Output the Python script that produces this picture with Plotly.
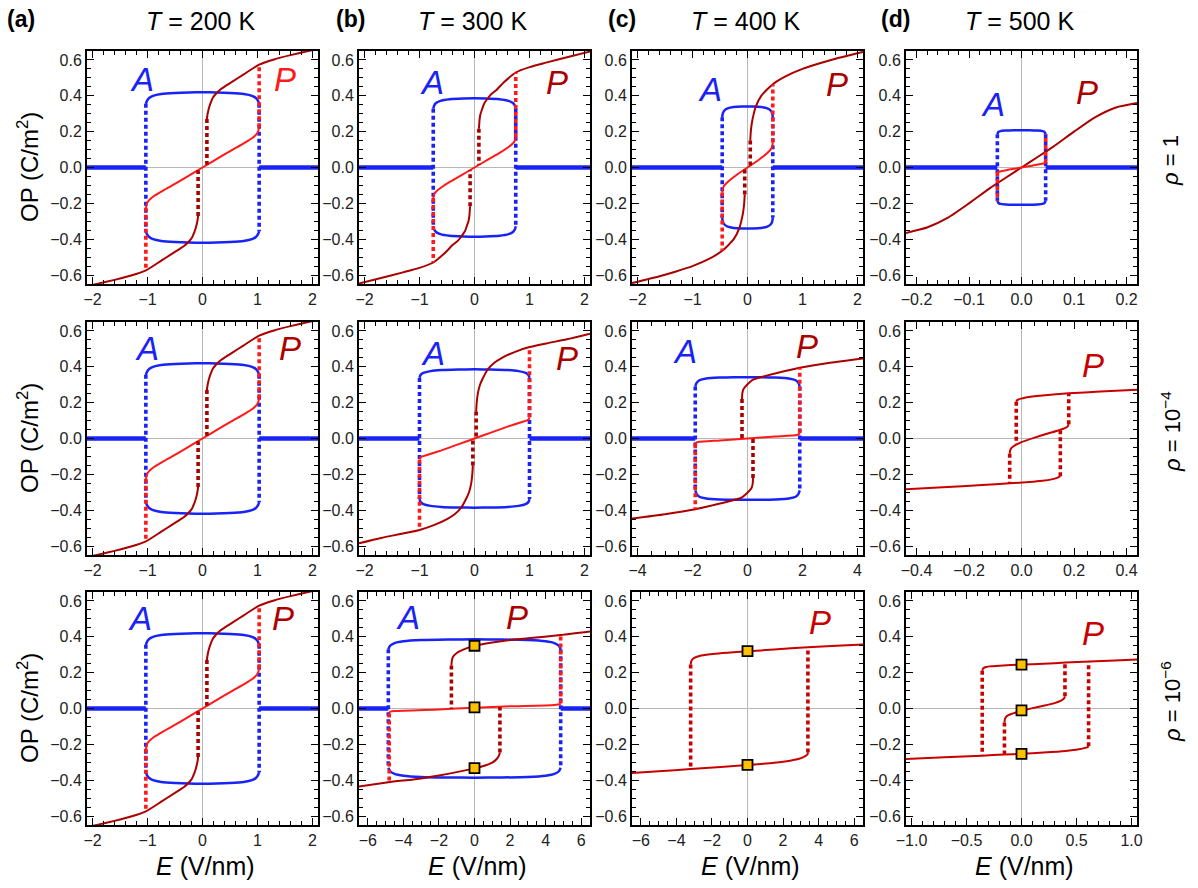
import plotly.graph_objects as go

# ---------------- data ----------------
# Column (a), T = 200 K  (same loops in all three rows)
a_Ec = 1.03
a_A_E = [-1.03, -1.01, -0.97, -0.9, -0.75, -0.5, -0.25, 0, 0.25, 0.5, 0.75, 0.9, 0.97, 1.01, 1.03]
a_A_OP = [0.355, 0.372, 0.388, 0.400, 0.410, 0.416, 0.419, 0.420, 0.419, 0.416, 0.410, 0.400, 0.388, 0.372, 0.355]
a_Pup_E = [0.08, 0.088, 0.1, 0.12, 0.15, 0.19, 0.24, 0.33, 0.42, 0.55, 0.75, 1.03, 1.3, 1.6, 1.9, 2.1]
a_Pup_OP = [0.27, 0.29, 0.31, 0.335, 0.362, 0.39, 0.41, 0.437, 0.455, 0.48, 0.52, 0.574, 0.603, 0.627, 0.648, 0.662]
a_Pmid_E = [-1.03, -1.01, -0.97, -0.9, -0.75, -0.55, -0.3, 0, 0.3, 0.55, 0.75, 0.9, 0.97, 1.01, 1.03]
a_Pmid_OP = [-0.225, -0.2, -0.182, -0.163, -0.135, -0.1, -0.055, 0, 0.055, 0.1, 0.135, 0.163, 0.182, 0.2, 0.225]
a_Eturn = 0.08
a_mid_turn = 0.015

# Column (b) row 1, T = 300 K, rho = 1
b1_Ec = 0.75
b1_A_E = [-0.75, -0.735, -0.7, -0.62, -0.45, -0.2, 0, 0.2, 0.45, 0.62, 0.7, 0.735, 0.75]
b1_A_OP = [0.328, 0.345, 0.36, 0.372, 0.381, 0.385, 0.386, 0.385, 0.381, 0.372, 0.36, 0.345, 0.328]
b1_Pup_E = [0.08, 0.094, 0.11, 0.131, 0.175, 0.24, 0.3, 0.4, 0.55, 0.75, 1.0, 1.3, 1.7, 2.1]
b1_Pup_OP = [0.216, 0.272, 0.3, 0.319, 0.356, 0.385, 0.408, 0.433, 0.48, 0.53, 0.56, 0.585, 0.617, 0.647]
b1_Pmid_E = [-0.75, -0.735, -0.7, -0.6, -0.45, -0.25, 0, 0.25, 0.45, 0.6, 0.7, 0.735, 0.75]
b1_Pmid_OP = [-0.17, -0.15, -0.135, -0.11, -0.08, -0.045, 0, 0.045, 0.08, 0.11, 0.135, 0.15, 0.17]
b1_Eturn = 0.08
b1_mid_turn = 0.015

# Column (c) row 1, T = 400 K, rho = 1
c1_Ec = 0.46
c1_A_E = [-0.46, -0.45, -0.42, -0.36, -0.25, -0.1, 0, 0.1, 0.25, 0.36, 0.42, 0.45, 0.46]
c1_A_OP = [0.28, 0.3, 0.318, 0.33, 0.337, 0.34, 0.34, 0.34, 0.337, 0.33, 0.318, 0.3, 0.28]
c1_Pup_E = [0.05, 0.06, 0.08, 0.11, 0.15, 0.25, 0.46, 0.7, 1.0, 1.3, 1.6, 2.1]
c1_Pup_OP = [0.15, 0.2, 0.25, 0.295, 0.34, 0.4, 0.465, 0.51, 0.55, 0.58, 0.607, 0.645]
c1_Pmid_E = [-0.46, -0.45, -0.42, -0.35, -0.2, 0, 0.2, 0.35, 0.42, 0.45, 0.46]
c1_Pmid_OP = [-0.14, -0.118, -0.1, -0.078, -0.042, 0, 0.042, 0.078, 0.1, 0.118, 0.14]
c1_Eturn = 0.05
c1_mid_turn = 0.01

# Column (d) row 1, T = 500 K, rho = 1
d1_Ec = 0.046
d1_A_E = [-0.046, -0.044, -0.04, -0.03, -0.015, 0, 0.015, 0.03, 0.04, 0.044, 0.046]
d1_A_OP = [0.185, 0.198, 0.203, 0.206, 0.208, 0.208, 0.208, 0.206, 0.203, 0.198, 0.185]
d1_PS_E = [-0.22, -0.18, -0.14, -0.1, -0.06, -0.03, 0, 0.03, 0.06, 0.1, 0.14, 0.18, 0.22]
d1_PS_OP = [-0.365, -0.335, -0.28, -0.2, -0.115, -0.057, 0, 0.057, 0.115, 0.2, 0.28, 0.335, 0.36]
d1_Pmid_E = [-0.046, -0.02, 0, 0.02, 0.046]
d1_Pmid_OP = [-0.025, -0.01, 0, 0.01, 0.025]

# Column (b) row 2, rho = 1e-4
b2_Ec = 1.0
b2_A_E = [-1.0, -0.98, -0.93, -0.8, -0.6, -0.3, 0, 0.3, 0.6, 0.8, 0.93, 0.98, 1.0]
b2_A_OP = [0.338, 0.355, 0.366, 0.376, 0.382, 0.385, 0.386, 0.385, 0.382, 0.376, 0.366, 0.355, 0.338]
b2_Pup_E = [0.03, 0.04, 0.06, 0.1, 0.15, 0.24, 0.35, 0.5, 0.75, 1.0, 1.3, 1.7, 2.1]
b2_Pup_OP = [0.15, 0.2, 0.25, 0.3, 0.335, 0.385, 0.42, 0.45, 0.485, 0.51, 0.53, 0.555, 0.585]
b2_Pmid_E = [-1.0, -0.985, -0.95, -0.85, -0.6, -0.3, 0, 0.3, 0.6, 0.85, 0.95, 0.985, 1.0]
b2_Pmid_OP = [-0.118, -0.106, -0.1, -0.091, -0.066, -0.033, 0, 0.033, 0.066, 0.091, 0.1, 0.106, 0.118]
b2_Eturn = 0.03
b2_mid_turn = 0.004

# Column (c) row 2, rho = 1e-4
c2_Ec = 1.9
c2_A_E = [-1.9, -1.85, -1.75, -1.5, -1.0, -0.5, 0, 0.5, 1.0, 1.5, 1.75, 1.85, 1.9]
c2_A_OP = [0.29, 0.31, 0.325, 0.335, 0.34, 0.342, 0.342, 0.342, 0.34, 0.335, 0.325, 0.31, 0.29]
c2_Pup_E = [-0.2, -0.19, -0.15, -0.08, 0.05, 0.2, 0.5, 1.0, 1.9, 3.0, 4.2]
c2_Pup_OP = [0.22, 0.25, 0.275, 0.29, 0.31, 0.328, 0.343, 0.363, 0.395, 0.423, 0.447]
c2_Pmid_E = [-1.9, -1.88, -1.8, -1.0, 0, 1.0, 1.8, 1.88, 1.9]
c2_Pmid_OP = [-0.032, -0.025, -0.02, -0.011, 0, 0.011, 0.02, 0.025, 0.032]
c2_Eturn = -0.2
c2_mid_turn = -0.002

# Column (d) row 2, rho = 1e-4
d2_Pup_E = [-0.02, -0.017, -0.01, 0.0, 0.02, 0.08, 0.18, 0.3, 0.44]
d2_Pup_OP = [0.205, 0.213, 0.219, 0.223, 0.23, 0.24, 0.252, 0.262, 0.272]
d2_Plo_E = [-0.44, -0.3, -0.15, -0.045, 0.03, 0.08, 0.115, 0.135, 0.148]
d2_Plo_OP = [-0.283, -0.272, -0.26, -0.25, -0.243, -0.236, -0.228, -0.22, -0.21]
d2_Pmid_E = [-0.045, -0.043, -0.038, -0.025, 0, 0.05, 0.1, 0.14, 0.165, 0.176, 0.18]
d2_Pmid_OP = [-0.085, -0.065, -0.052, -0.038, -0.02, 0.005, 0.028, 0.045, 0.058, 0.068, 0.08]
d2_jump_E = [-0.02, -0.045, 0.18, 0.148]
d2_jump_from = [0.205, -0.085, 0.08, -0.21]
d2_jump_to = [-0.03, -0.25, 0.253, 0.048]

# Column (b) row 3, rho = 1e-6
b3_Ec = 4.85
b3_A_E = [-4.85, -4.75, -4.5, -4.0, -3.0, -1.5, 0, 1.5, 3.0, 4.0, 4.5, 4.75, 4.85]
b3_A_OP = [0.33, 0.35, 0.365, 0.375, 0.382, 0.385, 0.386, 0.385, 0.382, 0.375, 0.365, 0.35, 0.33]
b3_Pup_E = [-1.3, -1.27, -1.2, -1.0, -0.6, 0, 1, 2, 3, 4.85, 6.5]
b3_Pup_OP = [0.24, 0.27, 0.29, 0.31, 0.33, 0.35, 0.368, 0.382, 0.392, 0.41, 0.43]
b3_Plo_E = [-6.5, -4.85, -3, -2, -1, 0, 0.6, 1.0, 1.25, 1.38, 1.43]
b3_Plo_OP = [-0.435, -0.412, -0.39, -0.374, -0.355, -0.334, -0.318, -0.302, -0.282, -0.262, -0.245]
b3_Pmid_E = [-4.8, -4.75, -4.5, -2, 0, 2, 4.5, 4.8, 4.85]
b3_Pmid_OP = [-0.028, -0.018, -0.014, -0.005, 0.004, 0.012, 0.02, 0.024, 0.028]
b3_jumpR_E = [-4.8, 4.85]
b3_jumpR_from = [-0.028, 0.028]
b3_jumpR_to = [-0.412, 0.41]
b3_jumpD_E = [-1.3, 1.43]
b3_jumpD_from = [0.24, -0.245]
b3_jumpD_to = [-0.001, 0.009]
b3_mark_OP = [0.35, 0.006, -0.333]

# Column (c) row 3, rho = 1e-6
c3_Pup_E = [-3.2, -3.15, -3.0, -2.6, -1.8, -0.8, 0, 1.5, 3.4, 5, 6.5]
c3_Pup_OP = [0.245, 0.268, 0.283, 0.296, 0.306, 0.314, 0.319, 0.329, 0.342, 0.35, 0.357]
c3_Plo_E = [-6.5, -5, -3.2, -1.5, 0, 1.5, 2.4, 2.95, 3.25, 3.38, 3.4]
c3_Plo_OP = [-0.36, -0.35, -0.338, -0.326, -0.315, -0.303, -0.291, -0.279, -0.266, -0.255, -0.245]
c3_jump_E = [-3.2, 3.4]
c3_jump_from = [0.245, -0.245]
c3_jump_to = [-0.338, 0.342]
c3_mark_OP = [0.32, -0.315]

# Column (d) row 3, rho = 1e-6
d3_Pup_E = [-0.357, -0.35, -0.33, -0.29, -0.2, 0, 0.2, 0.4, 0.62, 0.85, 1.05]
d3_Pup_OP = [0.21, 0.222, 0.23, 0.235, 0.239, 0.245, 0.25, 0.256, 0.262, 0.268, 0.273]
d3_Plo_E = [-1.05, -0.7, -0.357, -0.155, 0, 0.2, 0.4, 0.52, 0.57, 0.6, 0.61]
d3_Plo_OP = [-0.282, -0.272, -0.263, -0.257, -0.253, -0.246, -0.237, -0.228, -0.221, -0.215, -0.21]
d3_Pmid_E = [-0.155, -0.15, -0.135, -0.1, -0.05, 0, 0.1, 0.2, 0.3, 0.36, 0.385, 0.395]
d3_Pmid_OP = [-0.078, -0.058, -0.043, -0.032, -0.022, -0.013, 0.002, 0.015, 0.03, 0.044, 0.055, 0.068]
d3_jump_E = [-0.357, -0.155, 0.395, 0.61]
d3_jump_from = [0.21, -0.078, 0.068, -0.21]
d3_jump_to = [-0.263, -0.257, 0.256, 0.262]
d3_mark_OP = [0.245, -0.01, -0.253]

# axis ranges / ticks per panel (row-major)
x_max = [2.1, 2.1, 2.1, 0.22,
         2.1, 2.1, 4.2, 0.44,
         2.1, 6.5, 6.5, 1.05]
x_dtick = [1, 1, 1, 0.1,
           1, 1, 2, 0.2,
           1, 2, 2, 0.5]
x_minor = [0.2, 0.2, 0.2, 0.02,
           0.2, 0.2, 0.5, 0.05,
           0.2, 0.5, 0.5, 0.1]
x_fmt = ["d", "d", "d", ".1f", "d", "d", "d", ".1f", "d", "d", "d", ".1f"]
y_max = 0.65

temps = ["200", "300", "400", "500"]
panel_tags = ["(a)", "(b)", "(c)", "(d)"]
rho_labels = ["1", "10<sup>−4</sup>", "10<sup>−6</sup>"]

# ---------------- styles ----------------
BLUE = "rgb(25,35,245)"
RED = "rgb(255,25,25)"
DRED = "rgb(170,0,0)"
MRED = "rgb(200,0,0)"
FONT = "Liberation Sans, Arial, sans-serif"
W, H = 1198, 888
COL_LEFT = [87, 359, 632, 906]
ROW_TOP = [51, 322, 592]
PW, PH = 231, 233
TAG_X = [5, 334, 606, 879]

fig = go.Figure()


def axn(i):
    return ("x" if i == 0 else f"x{i+1}"), ("y" if i == 0 else f"y{i+1}")


def line(i, E, OP, color, width=2.0, dash=None, shape="spline"):
    xa, ya = axn(i)
    fig.add_trace(go.Scatter(x=E, y=OP, mode="lines", xaxis=xa, yaxis=ya,
                             line=dict(color=color, width=width, dash=dash, shape=shape,
                                       smoothing=0.6),
                             hoverinfo="skip", showlegend=False))


def dots(i, E, y0, y1, color):
    line(i, [E, E], [y0, y1], color, width=3.6, dash="4px,3px", shape="linear")


def markers(i, OPs):
    xa, ya = axn(i)
    fig.add_trace(go.Scatter(x=[0] * len(OPs), y=OPs, mode="markers", xaxis=xa, yaxis=ya,
                             marker=dict(symbol="square", size=10, color="rgb(255,192,0)",
                                         line=dict(color="black", width=1.8)),
                             hoverinfo="skip", showlegend=False))


def neg(v):
    return [-t for t in v]


def antipolar(i, Ec, AE, AOP, xm):
    line(i, [-xm, -Ec], [0, 0], BLUE, width=4.5, shape="linear")
    line(i, [Ec, xm], [0, 0], BLUE, width=4.5, shape="linear")
    line(i, AE, AOP, BLUE, width=2.5)
    line(i, AE, neg(AOP), BLUE, width=2.5)
    dots(i, -Ec, AOP[0], -AOP[0], BLUE)
    dots(i, Ec, AOP[-1], -AOP[-1], BLUE)


def polar_sym(i, Ec, PuE, PuOP, PmE, PmOP, Et, mt, xm):
    line(i, PuE, PuOP, DRED)
    line(i, neg(PuE), neg(PuOP), DRED)
    line(i, PmE, PmOP, RED)
    top = PuOP[PuE.index(Ec)] if Ec in PuE else PuOP[-1]
    dots(i, Ec, PmOP[-1], top, RED)
    dots(i, -Ec, PmOP[0], -top, RED)
    dots(i, Et, PuOP[0], mt, DRED)
    dots(i, -Et, -PuOP[0], -mt, DRED)


# --- column a, all rows
for r in range(3):
    i = 4 * r
    antipolar(i, a_Ec, a_A_E, a_A_OP, x_max[i])
    polar_sym(i, a_Ec, a_Pup_E, a_Pup_OP, a_Pmid_E, a_Pmid_OP, a_Eturn, a_mid_turn, x_max[i])

# --- b1, c1
antipolar(1, b1_Ec, b1_A_E, b1_A_OP, x_max[1])
polar_sym(1, b1_Ec, b1_Pup_E, b1_Pup_OP, b1_Pmid_E, b1_Pmid_OP, b1_Eturn, b1_mid_turn, x_max[1])
antipolar(2, c1_Ec, c1_A_E, c1_A_OP, x_max[2])
polar_sym(2, c1_Ec, c1_Pup_E, c1_Pup_OP, c1_Pmid_E, c1_Pmid_OP, c1_Eturn, c1_mid_turn, x_max[2])

# --- d1
antipolar(3, d1_Ec, d1_A_E, d1_A_OP, x_max[3])
line(3, d1_PS_E, d1_PS_OP, DRED)
line(3, d1_Pmid_E, d1_Pmid_OP, RED)
dots(3, d1_Ec, d1_Pmid_OP[-1], d1_A_OP[-1], RED)
dots(3, -d1_Ec, d1_Pmid_OP[0], -d1_A_OP[0], RED)

# --- b2, c2
antipolar(5, b2_Ec, b2_A_E, b2_A_OP, x_max[5])
polar_sym(5, b2_Ec, b2_Pup_E, b2_Pup_OP, b2_Pmid_E, b2_Pmid_OP, b2_Eturn, b2_mid_turn, x_max[5])
antipolar(6, c2_Ec, c2_A_E, c2_A_OP, x_max[6])
polar_sym(6, c2_Ec, c2_Pup_E, c2_Pup_OP, c2_Pmid_E, c2_Pmid_OP, c2_Eturn, c2_mid_turn, x_max[6])

# --- d2
line(7, d2_Pup_E, d2_Pup_OP, MRED)
line(7, d2_Plo_E, d2_Plo_OP, MRED)
line(7, d2_Pmid_E, d2_Pmid_OP, MRED)
for e, y0, y1 in zip(d2_jump_E, d2_jump_from, d2_jump_to):
    dots(7, e, y0, y1, MRED)

# --- b3
antipolar(9, b3_Ec, b3_A_E, b3_A_OP, x_max[9])
line(9, b3_Pup_E, b3_Pup_OP, DRED)
line(9, b3_Plo_E, b3_Plo_OP, DRED)
line(9, b3_Pmid_E, b3_Pmid_OP, RED)
for e, y0, y1 in zip(b3_jumpR_E, b3_jumpR_from, b3_jumpR_to):
    dots(9, e, y0, y1, RED)
for e, y0, y1 in zip(b3_jumpD_E, b3_jumpD_from, b3_jumpD_to):
    dots(9, e, y0, y1, DRED)
markers(9, b3_mark_OP)

# --- c3
line(10, c3_Pup_E, c3_Pup_OP, MRED)
line(10, c3_Plo_E, c3_Plo_OP, MRED)
for e, y0, y1 in zip(c3_jump_E, c3_jump_from, c3_jump_to):
    dots(10, e, y0, y1, MRED)
markers(10, c3_mark_OP)

# --- d3
line(11, d3_Pup_E, d3_Pup_OP, MRED)
line(11, d3_Plo_E, d3_Plo_OP, MRED)
line(11, d3_Pmid_E, d3_Pmid_OP, MRED)
for e, y0, y1 in zip(d3_jump_E, d3_jump_from, d3_jump_to):
    dots(11, e, y0, y1, MRED)
markers(11, d3_mark_OP)

# ---------------- axes ----------------
layout = dict(width=W, height=H, margin=dict(l=0, r=0, t=0, b=0),
              paper_bgcolor="white", plot_bgcolor="white", showlegend=False,
              font=dict(family=FONT, size=16, color="black"))
tickfont = dict(family=FONT, size=16, color="#222")
for i in range(12):
    r, c = divmod(i, 4)
    x0 = COL_LEFT[c] / W
    x1 = (COL_LEFT[c] + PW) / W
    y1 = 1 - ROW_TOP[r] / H
    y0 = 1 - (ROW_TOP[r] + PH) / H
    xk = "xaxis" if i == 0 else f"xaxis{i+1}"
    yk = "yaxis" if i == 0 else f"yaxis{i+1}"
    xa, ya = axn(i)
    common = dict(showline=True, linecolor="black", linewidth=2, mirror="ticks",
                  ticks="inside", ticklen=7, tickwidth=1.3, tickcolor="black",
                  showgrid=False, zeroline=True, zerolinecolor="#b8b8b8", zerolinewidth=1.3,
                  tickfont=tickfont, automargin=False)
    layout[xk] = dict(common, domain=[x0, x1], anchor=ya,
                      range=[-x_max[i], x_max[i]], dtick=x_dtick[i], tick0=0,
                      tickformat=x_fmt[i],
                      minor=dict(dtick=x_minor[i], tick0=0, ticks="inside", ticklen=4,
                                 tickwidth=1, tickcolor="black"))
    layout[yk] = dict(common, domain=[y0, y1], anchor=xa,
                      range=[-y_max, y_max], dtick=0.2, tick0=0, tickformat=".1f",
                      minor=dict(dtick=0.05, tick0=0, ticks="inside", ticklen=4,
                                 tickwidth=1, tickcolor="black"))
fig.update_layout(**layout)

# ---------------- text ----------------
ann = []


def txt(px, py, s, size, color="black", angle=0, xanchor="center"):
    ann.append(dict(x=px / W, y=1 - py / H, xref="paper", yref="paper", text=s,
                    showarrow=False, xanchor=xanchor, yanchor="middle", textangle=angle,
                    font=dict(family=FONT, size=size, color=color)))


for c in range(4):
    txt(TAG_X[c], 19, f"<b>{panel_tags[c]}</b>", 23, xanchor="left")
    txt(COL_LEFT[c] + 113, 21, f"<i>T</i> = {temps[c]} K", 25)
    txt(COL_LEFT[c] + 118, 866, "<i>E</i> (V/nm)", 25)
for r in range(3):
    txt(28, ROW_TOP[r] + 116, "OP (C/m<sup>2</sup>)", 24, angle=-90)
    txt(1171, ROW_TOP[r] + 110, f"<i>ρ</i> = {rho_labels[r]}", 22, angle=-90)

A_pos = [(142, 79), (432, 83), (710, 90), (993, 105),
         (147, 348), (433, 353), (685, 352), None,
         (140, 618), (408, 617), None, None]
P_pos = [(285, 79), (557, 83), (837, 85), (1087, 92),
         (290, 348), (567, 358), (807, 347), (1093, 365),
         (283, 618), (517, 617), (820, 622), (1093, 633)]
P_col = [RED, DRED, DRED, DRED, DRED, DRED, DRED, MRED, DRED, DRED, MRED, MRED]
for i in range(12):
    if A_pos[i]:
        txt(A_pos[i][0], A_pos[i][1], "<i>A</i>", 33, BLUE)
    txt(P_pos[i][0], P_pos[i][1], "<i>P</i>", 33, P_col[i])

fig.update_layout(annotations=ann)
fig.write_html("out.html", config={"displayModeBar": False},
               post_script="document.body.style.margin='0';document.body.style.overflow='hidden';")
